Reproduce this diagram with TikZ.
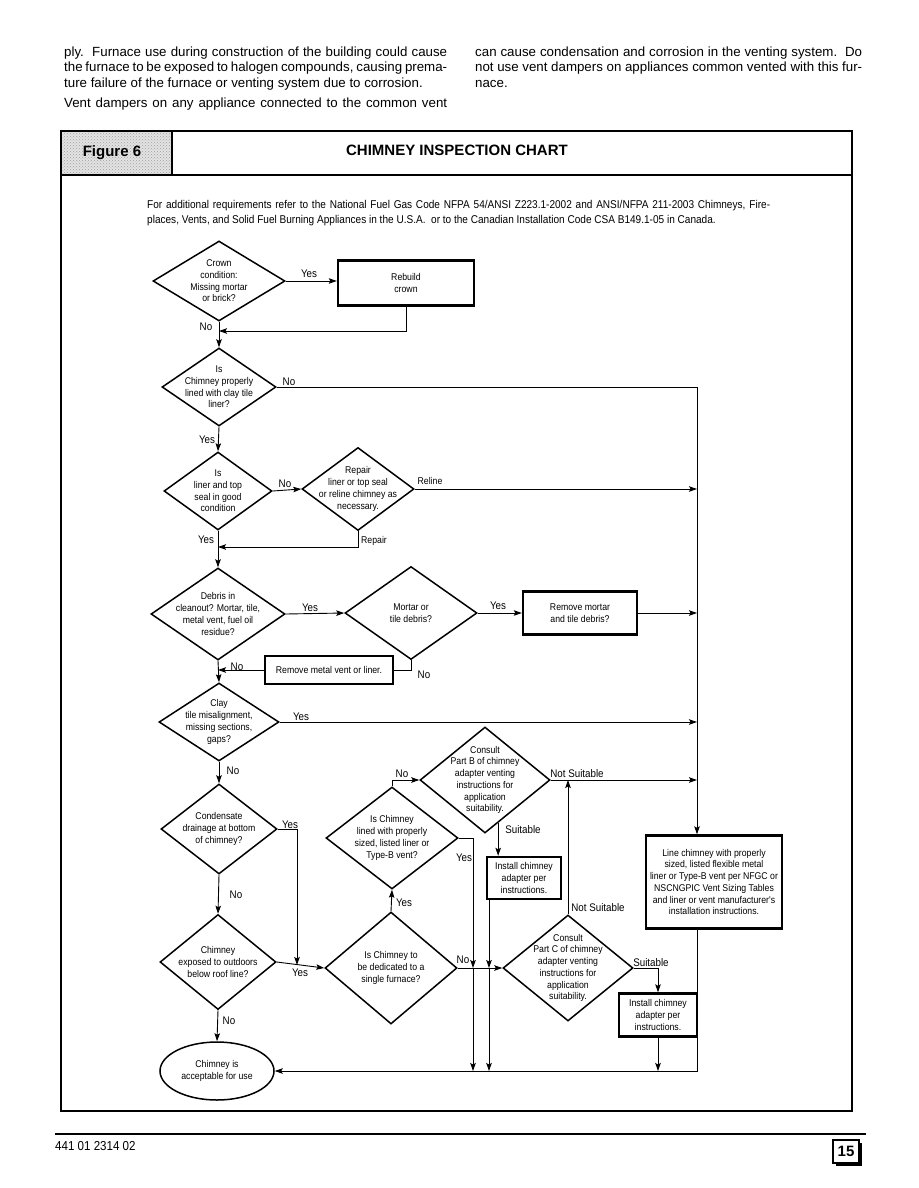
\documentclass[tikz,border=0pt]{standalone}
\usepackage{fontspec}
\setmainfont{Liberation Sans}
\newfontfamily\narrowfont[FakeStretch=0.89]{Liberation Sans}
\usetikzlibrary{arrows.meta,positioning,calc,shapes.geometric,patterns}
\newcommand{\chartfont}{\narrowfont\fontsize{9.8}{11.7}\selectfont}
\newcommand{\tagfont}{\narrowfont\fontsize{11}{12}\selectfont}
\tikzset{
  bodytxt/.style={anchor=base west, inner sep=0pt, font=\fontsize{13.3}{15}\selectfont},
  notetxt/.style={anchor=base west, inner sep=0pt, font=\narrowfont\fontsize{11.3}{15}\selectfont},
  decision/.style={diamond, draw, line width=1.5pt, inner sep=-60pt, align=center, font=\chartfont},
  actbox/.style={rectangle, draw, line width=2.4pt, inner sep=0pt, align=center, font=\chartfont},
  flowln/.style={line width=0.9pt},
  flowarr/.style={flowln, -{Stealth[length=8pt,width=5.5pt,inset=1.5pt]}},
  tag/.style={font=\tagfont, inner sep=0pt},
  smalltag/.style={font=\chartfont, inner sep=0pt},
}

\begin{document}
\begin{tikzpicture}[x=1pt, y=-1pt]
  \useasboundingbox (0,0) rectangle (918,1188);
  % page text above the chart
  \node[bodytxt] (p1) at (64,56.5) {\makebox[383pt][s]{ply.\ \ Furnace use during construction of the building could cause}};
  \node[bodytxt] (p2) at (64,72) {\makebox[383pt][s]{the furnace to be exposed to halogen compounds, causing prema-}};
  \node[bodytxt] (p3) at (64,87.5) {ture failure of the furnace or venting system due to corrosion.};
  \node[bodytxt] (p4) at (64,107.5) {\makebox[383pt][s]{Vent dampers on any appliance connected to the common vent}};
  \node[bodytxt] (q1) at (475,56.5) {\makebox[387pt][s]{can cause condensation and corrosion in the venting system.\ \ Do}};
  \node[bodytxt] (q2) at (475,72) {\makebox[387pt][s]{not use vent dampers on appliances common vented with this fur-}};
  \node[bodytxt] (q3) at (475,87.5) {nace.};

  % frame and header
  \fill[gray!22] (61,131) rectangle (172,175);
  \fill[pattern=crosshatch dots, pattern color=gray!75] (61,131) rectangle (172,175);
  \draw[line width=1.5pt] (61,131) rectangle (852,1111);
  \draw[line width=1.5pt] (172,131) -- (172,175);
  \draw[line width=2pt] (61,175) -- (852,175);
  \node[font=\bfseries\fontsize{15}{17}\selectfont] (fig) at (112,153) {Figure 6};
  \node[font=\bfseries\fontsize{15}{17}\selectfont] (title) at (457,150) {CHIMNEY INSPECTION CHART};

  % note
  \node[notetxt] (note1) at (147,208)
    {\makebox[623pt][s]{For additional requirements refer to the National Fuel Gas Code NFPA 54/ANSI Z223.1-2002 and ANSI/NFPA 211-2003 Chimneys, Fire-}};
  \node[notetxt] (note2) at (147,223)
    {places, Vents, and Solid Fuel Burning Appliances in the U.S.A.\ \ or to the Canadian Installation Code CSA B149.1-05 in Canada.};

  % left column
  \node[decision, minimum width=132pt, minimum height=80pt] (crown) at (219,281) {Crown\\condition:\\Missing mortar\\or brick?};
  \node[actbox, minimum width=136pt, minimum height=45pt] (rebuild) at (406,283) {Rebuild\\crown};
  \node[decision, minimum width=114pt, minimum height=78pt] (clayliner) at (219,387) {Is\\Chimney properly\\lined with clay tile\\liner?};
  \node[decision, minimum width=108pt, minimum height=78pt] (linerseal) at (218,491) {Is\\liner and top\\seal in good\\condition};
  \node[decision, minimum width=112pt, minimum height=83pt] (repair) at (358,489) {Repair\\liner or top seal\\or reline chimney as\\necessary.};
  \node[decision, minimum width=134pt, minimum height=92pt] (debris) at (218,614) {Debris in\\cleanout? Mortar, tile,\\metal vent, fuel oil\\residue?};
  \node[decision, minimum width=132pt, minimum height=93pt] (mortar) at (411,613) {Mortar or\\tile debris?};
  \node[actbox, minimum width=114pt, minimum height=43pt] (rmmortar) at (580,613) {Remove mortar\\and tile debris?};
  \node[actbox, minimum width=128pt, minimum height=28pt] (rmvent) at (329,670) {Remove metal vent or liner.};
  \node[decision, minimum width=120pt, minimum height=78pt] (tilegap) at (219,722) {Clay\\tile misalignment,\\missing sections,\\gaps?};
  \node[decision, minimum width=116pt, minimum height=90pt] (drain) at (219,829) {Condensate\\drainage at bottom\\of chimney?};
  \node[decision, minimum width=116pt, minimum height=95pt] (outdoor) at (218,962) {Chimney\\exposed to outdoors\\below roof line?};
  \node[ellipse, draw, line width=1.5pt, inner sep=0pt, minimum width=114pt, minimum height=58pt, align=center, font=\chartfont] (accept) at (217,1071) {Chimney is\\acceptable for use};

  % middle and right
  \node[decision, minimum width=132pt, minimum height=102pt] (typeb) at (392,838) {Is Chimney\\lined with properly\\sized, listed liner or\\Type-B vent?};
  \node[decision, minimum width=132pt, minimum height=112pt] (dedicated) at (391,968) {Is Chimney to\\be dedicated to a\\single furnace?};
  \node[decision, minimum width=130pt, minimum height=106pt] (partb) at (485,780) {Consult\\Part B of chimney\\adapter venting\\instructions for\\application\\suitability.};
  \node[actbox, minimum width=74pt, minimum height=42pt] (adapterb) at (524,878) {Install chimney\\adapter per\\instructions.};
  \node[decision, minimum width=130pt, minimum height=106pt] (partc) at (568,968) {Consult\\Part C of chimney\\adapter venting\\instructions for\\application\\suitability.};
  \node[actbox, minimum width=78pt, minimum height=43pt] (adapterc) at (658,1015) {Install chimney\\adapter per\\instructions.};
  \node[actbox, minimum width=136pt, minimum height=93pt] (lineit) at (714,882) {Line chimney with properly\\sized, listed flexible metal\\liner or Type-B vent per NFGC or\\NSCNGPIC Vent Sizing Tables\\and liner or vent manufacturer's\\installation instructions.};

  % helper points
  \coordinate (trunk) at (697,0);
  \coordinate (ryes) at (473,0);
  \coordinate (rsuit) at (489,0);
  \coordinate (jcrown) at (219,331);
  \coordinate (jrepair) at (218,547);
  \coordinate (jdrain) at (297,965);

  % connectors
  \draw[flowarr] (crown.east) -- (crown.east -| rebuild.west);
  \draw[flowarr] (rebuild.south) |- (jcrown);
  \draw[flowarr] (crown.south) -- (clayliner.north);
  \draw[flowarr] (clayliner.east) -- (clayliner.east -| trunk) -- (trunk |- lineit.north);
  \draw[flowarr] (clayliner.south) -- (linerseal.north);
  \draw[flowarr] (linerseal.east) -- (repair.west);
  \draw[flowarr] (repair.east) -- (repair.east -| trunk);
  \draw[flowarr] (repair.south) |- (jrepair);
  \draw[flowarr] (linerseal.south) -- (debris.north);
  \draw[flowarr] (debris.east) -- (mortar.west);
  \draw[flowarr] (mortar.east) -- (rmmortar.west);
  \draw[flowarr] (rmmortar.east) -- (rmmortar.east -| trunk);
  \draw[flowln] (mortar.south) |- (rmvent.east);
  \draw[flowarr] (rmvent.west) -- (rmvent.west -| debris.south);
  \draw[flowarr] (debris.south) -- (tilegap.north);
  \draw[flowarr] (tilegap.east) -- (tilegap.east -| trunk);
  \draw[flowarr] (tilegap.south) -- (drain.north);
  \draw[flowarr] (drain.east) -| (jdrain);
  \draw[flowarr] (drain.south) -- (outdoor.north);
  \draw[flowarr] (outdoor.east) -- (dedicated.west);
  \draw[flowarr] (outdoor.south) -- (accept.north);
  \draw[flowarr] (dedicated.north) -- (typeb.south);
  \draw[flowarr] (typeb.north) |- (partb.west);
  \draw[flowarr] (partb.east) -- (partb.east -| trunk);
  \draw[flowarr] (partb.-73) -- (partb.-73 |- adapterb.north);
  \draw[flowarr] (typeb.east) -| (ryes |- dedicated.east);
  \draw[flowarr] (ryes |- dedicated.east) -- (ryes |- accept.east);
  \draw[flowarr] (adapterb.south -| rsuit) -- (rsuit |- dedicated.east);
  \draw[flowarr] (rsuit |- dedicated.east) -- (rsuit |- accept.east);
  \draw[flowarr] (dedicated.east) -- (partc.west);
  \draw[flowarr] (partc.north) -- (partc.north |- partb.east);
  \draw[flowarr] (partc.east) -| (adapterc.north);
  \draw[flowarr] (adapterc.south) -- (adapterc.south |- accept.east);
  \draw[flowarr] (trunk |- lineit.south) -- (trunk |- accept.east) -- (accept.east);

  % branch labels
  \node[tag] (t1) at (309,274) {Yes};
  \node[tag] (t2) at (206,327) {No};
  \node[tag] (t3) at (289,382) {No};
  \node[tag] (t4) at (207,440) {Yes};
  \node[tag] (t5) at (285,484) {No};
  \node[smalltag] (t6) at (430,481) {Reline};
  \node[smalltag] (t7) at (374,541) {Repair};
  \node[tag] (t8) at (206,540) {Yes};
  \node[tag] (t9) at (310,608) {Yes};
  \node[tag] (t10) at (498,606) {Yes};
  \node[tag] (t11) at (424,675) {No};
  \node[tag] (t12) at (237,667) {No};
  \node[tag] (t13) at (301,717) {Yes};
  \node[tag] (t14) at (233,771) {No};
  \node[tag] (t15) at (290,825) {Yes};
  \node[tag] (t16) at (236,895) {No};
  \node[tag] (t17) at (300,973) {Yes};
  \node[tag] (t18) at (229,1021) {No};
  \node[tag] (t19) at (404,903) {Yes};
  \node[tag] (t20) at (402,774) {No};
  \node[tag] (t21) at (577,774) {Not Suitable};
  \node[tag] (t22) at (523,830) {Suitable};
  \node[tag] (t23) at (463,960) {No};
  \node[tag] (t24) at (464,858) {Yes};
  \node[tag] (t25) at (598,908) {Not Suitable};
  \node[tag] (t26) at (651,963) {Suitable};

  % footer
  \draw[line width=2.5pt] (55,1134) -- (866,1134);
  \node[anchor=west, inner sep=0pt, font=\narrowfont\fontsize{13}{14}\selectfont] (docno) at (55,1146) {441 01 2314 02};
  \fill (836,1143) rectangle (862,1166);
  \node[draw, fill=white, line width=1.5pt, minimum width=26pt, minimum height=23pt, inner sep=0pt,
    font=\bfseries\fontsize{15}{16}\selectfont] (pageno) at (846,1151.5) {15};
\end{tikzpicture}
\end{document}
